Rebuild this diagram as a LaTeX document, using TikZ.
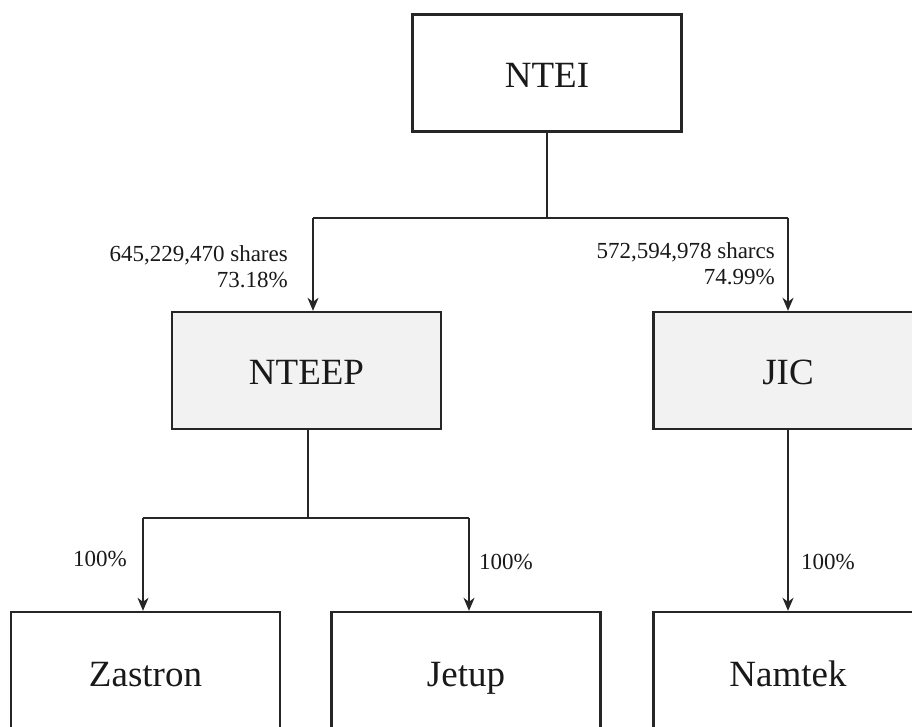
\documentclass[tikz,border=0pt]{standalone}
\usepackage{fontspec}
\setmainfont{Liberation Serif}
\usetikzlibrary{arrows.meta}
\begin{document}
\begin{tikzpicture}[x=1pt,y=-1pt,
  box/.style={draw=black!85,line width=2.4pt,minimum width=269pt,minimum height=117pt,inner sep=0pt,font=\fontsize{37}{40}\selectfont,text=black!90,text height=30pt,text depth=2pt},
  graybox/.style={box,fill=black!5},
  conn/.style={draw=black!85,line width=1.6pt},
  arr/.style={conn,-{Stealth[length=13pt,width=11pt,inset=4pt]}},
  lbl/.style={font=\fontsize{23}{26}\selectfont,text=black!90,inner sep=0pt},
  lblr/.style={lbl,align=right,anchor=east}]
\useasboundingbox (0,0) rectangle (912,726);
\clip (0,0) rectangle (912,726);
\fill[white] (0,0) rectangle (912,726);
\node[box] (ntei) at (547,73) {NTEI};
\node[graybox] (nteep) at (306.5,370.5) {NTEEP};
\node[graybox] (jic) at (788,370.5) {JIC};
\node[box,minimum height=120pt] (zastron) at (145.5,672) {Zastron};
\node[box,minimum height=120pt] (jetup) at (466,672) {Jetup};
\node[box,minimum height=120pt] (namtek) at (788,672) {Namtek};
\coordinate (t1) at (ntei.south |- 0,218);
\coordinate (tl) at (313,218);
\coordinate (tr) at (788,218);
\coordinate (m1) at (308,518);
\coordinate (ml) at (143,518);
\coordinate (mr) at (469,518);
\draw[conn] (ntei.south) -- (t1);
\draw[conn] (tl) -- (tr);
\draw[arr] (tl) -- (tl |- nteep.north);
\draw[arr] (tr) -- (jic.north);
\draw[conn] (nteep.south -| m1) -- (m1);
\draw[conn] (ml) -- (mr);
\draw[arr] (ml) -- (ml |- zastron.north);
\draw[arr] (mr) -- (mr |- jetup.north);
\draw[arr] (jic.south) -- (namtek.north);
\node[lblr] (l1) at (288,267) {645,229,470 shares\\73.18\%};
\node[lblr] (l2) at (775,264) {572,594,978 sharcs\\74.99\%};
\node[lbl] (p1) at (100,559) {100\%};
\node[lbl] (p2) at (506,562) {100\%};
\node[lbl] (p3) at (828,562) {100\%};
\end{tikzpicture}
\end{document}
